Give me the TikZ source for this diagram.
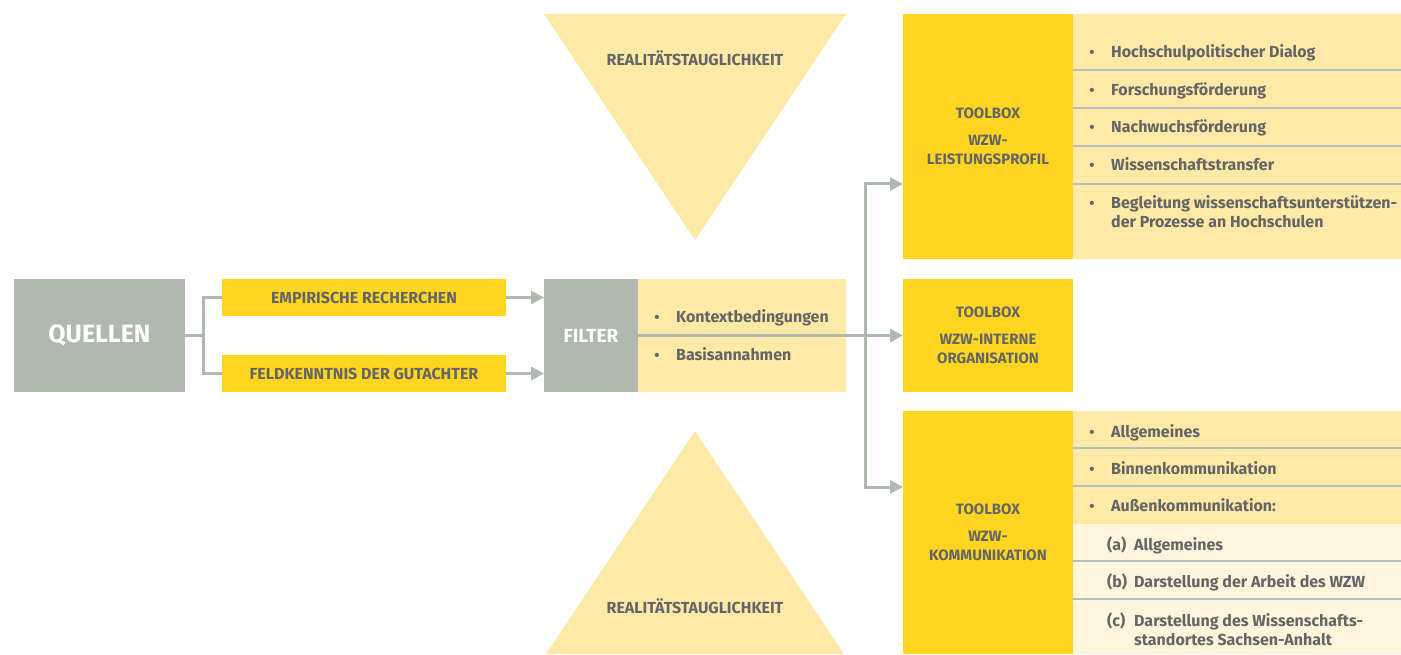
\documentclass[tikz,border=0pt]{standalone}
\usepackage{fontspec}
\setmainfont{Fira Sans}
\usetikzlibrary{arrows.meta}
\definecolor{gbox}{HTML}{B0B9AF}
\definecolor{ybox}{HTML}{FFD520}
\definecolor{lybox}{HTML}{FFE9A6}
\definecolor{llybox}{HTML}{FFF5DC}
\definecolor{txt}{HTML}{646567}
\definecolor{sepc}{HTML}{B4BEC1}
\definecolor{conn}{HTML}{B0B9AF}
\begin{document}
\begin{tikzpicture}[x=1pt,y=-1pt,
  box/.style={rectangle,inner sep=0pt,outer sep=0pt,anchor=north west},
  lbl/.style={font=\fontsize{16}{19}\selectfont\bfseries,text=txt,align=center},
  tbl/.style={font=\fontsize{15}{19}\selectfont\bfseries,text=txt,align=center},
  big/.style={font=\fontsize{25}{28}\selectfont\bfseries,text=white},
  item/.style={font=\fontsize{16}{19}\selectfont\bfseries,text=txt,anchor=base west,align=left,inner sep=0pt},
  dot/.style={font=\fontsize{15}{19}\selectfont\bfseries,text=txt,anchor=base,inner sep=0pt},
  connline/.style={draw=conn,line width=3pt},
  arr/.style={draw=conn,line width=3pt,-{Triangle[length=13pt,width=13pt]}},
  sepline/.style={draw=sepc,line width=1.2pt}]
\useasboundingbox (0,0) rectangle (1401,655);

% triangles
\fill[lybox] (544,14) -- (846,14) -- (695,240) -- cycle;
\node[lbl] (t1) at (695,58) {REALITÄTSTAUGLICHKEIT};
\fill[lybox] (695,431) -- (844,654) -- (546,654) -- cycle;
\node[lbl] (t2) at (695,606) {REALITÄTSTAUGLICHKEIT};

% left part
\node[box,fill=gbox,minimum width=171pt,minimum height=113pt,big] (quellen) at (14,279) {QUELLEN};
\node[box,fill=ybox,minimum width=284pt,minimum height=37pt,lbl] (emp) at (222,279) {EMPIRISCHE RECHERCHEN};
\node[box,fill=ybox,minimum width=284pt,minimum height=37pt,lbl] (feld) at (222,355) {FELDKENNTNIS DER GUTACHTER};

% filter
\node[box,fill=lybox,minimum width=208pt,minimum height=113pt] (fpanel) at (638,279) {};
\node[box,fill=gbox,minimum width=94pt,minimum height=113pt,big,font=\fontsize{19}{22}\selectfont\bfseries] (filter) at (544,279) {FILTER};
\node[dot] (fb1) at (657,322) {•};
\node[item] (fi1) at (676,322) {Kontextbedingungen};
\node[dot] (fb2) at (657,360) {•};
\node[item] (fi2) at (676,360) {Basisannahmen};

% connectors left
\draw[connline] (quellen.east) -- ++(18,0) coordinate (qj) |- (emp.west);
\draw[connline] (qj) |- (feld.west);
\draw[arr] (emp.east) -- (emp.east -| filter.west);
\draw[arr] (feld.east) -- (feld.east -| filter.west);

% toolbox 1
\node[box,fill=lybox,minimum width=328pt,minimum height=245pt] (p1) at (1073,14) {};
\node[box,fill=ybox,minimum width=170pt,minimum height=245pt,tbl] (tb1) at (903,14) {TOOLBOX\\[8pt]WZW-\\LEISTUNGSPROFIL};
\foreach \yy in {70,108,146,184} \draw[sepline] (1073,\yy) -- (1401,\yy);
\node[dot] at (1092,58) {•}; \node[item] at (1111,58) {Hochschulpolitischer Dialog};
\node[dot] at (1092,96) {•}; \node[item] at (1111,96) {Forschungsförderung};
\node[dot] at (1092,133) {•}; \node[item] at (1111,133) {Nachwuchsförderung};
\node[dot] at (1092,171) {•}; \node[item] at (1111,171) {Wissenschaftstransfer};
\node[dot] at (1092,209) {•}; \node[item] at (1111,209) {Begleitung wissenschaftsunterstützen-};
\node[item] at (1111,228) {der Prozesse an Hochschulen};

% toolbox 2
\node[box,fill=ybox,minimum width=170pt,minimum height=113pt,tbl] (tb2) at (903,279) {TOOLBOX\\[8pt]WZW-INTERNE\\ORGANISATION};

% toolbox 3
\node[box,fill=lybox,minimum width=328pt,minimum height=113pt] (p3a) at (1073,411) {};
\node[box,fill=llybox,minimum width=328pt,minimum height=130pt] (p3b) at (1073,524) {};
\node[box,fill=ybox,minimum width=170pt,minimum height=243pt,tbl] (tb3) at (903,411) {TOOLBOX\\[8pt]WZW-\\KOMMUNIKATION};
\foreach \yy in {448,486,561,599} \draw[sepline] (1073,\yy) -- (1401,\yy);
\node[dot] at (1092,437) {•}; \node[item] at (1111,437) {Allgemeines};
\node[dot] at (1092,474) {•}; \node[item] at (1111,474) {Binnenkommunikation};
\node[dot] at (1092,511) {•}; \node[item] at (1111,511) {Außenkommunikation:};
\node[item] at (1107,550) {(a)}; \node[item] at (1134,550) {Allgemeines};
\node[item] at (1107,587) {(b)}; \node[item] at (1134,587) {Darstellung der Arbeit des WZW};
\node[item] at (1107,626) {(c)}; \node[item] at (1134,626) {Darstellung des Wissenschafts-};
\node[item] at (1134,645) {standortes Sachsen-Anhalt};

% right connectors
\coordinate (a1) at (903,184);
\coordinate (a3) at (903,487);
\coordinate (rj) at (865,335.5);
\draw[arr] (filter.east) -- (tb2.west);
\draw[arr] (rj) |- (a1);
\draw[arr] (rj) |- (a3);
\end{tikzpicture}
\end{document}
